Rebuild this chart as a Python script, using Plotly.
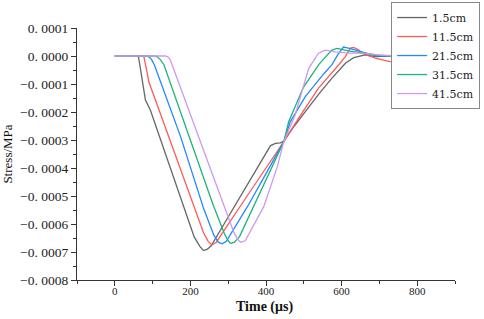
import plotly.graph_objects as go

# Time (us) and stress (x1e-4 MPa)
series_names = ["1.5cm", "11.5cm", "21.5cm", "31.5cm", "41.5cm"]

t_15 = [0, 60, 63, 70, 81, 94, 130, 183, 210, 225, 235, 245, 255, 300, 350, 400, 412, 425, 438, 447, 475, 504, 540, 574, 610, 632, 662, 689, 730, 800]
s_15 = [0, 0, -0.05, -0.59, -1.57, -1.93, -3.32, -5.41, -6.46, -6.80, -6.95, -6.90, -6.78, -5.75, -4.63, -3.46, -3.20, -3.12, -3.10, -3.04, -2.5, -1.99, -1.35, -0.80, -0.26, -0.06, 0.04, -0.02, 0.0, 0.0]

t_115 = [0, 74, 77, 82, 86, 90, 130, 174, 213, 235, 247, 257, 268, 300, 350, 400, 438, 447, 486, 539, 592, 610, 623, 632, 645, 654, 689, 728, 800]
s_115 = [0, 0, -0.03, -0.3, -0.62, -0.92, -2.41, -4.04, -5.5, -6.32, -6.62, -6.75, -6.66, -6.0, -5.0, -4.0, -3.25, -3.06, -2.23, -1.15, -0.32, -0.02, 0.28, 0.31, 0.22, 0.10, -0.08, -0.20, -0.25]

t_215 = [0, 84, 90, 97, 105, 174, 235, 262, 274, 284, 295, 350, 400, 447, 464, 504, 552, 575, 590, 605, 618, 654, 689, 730, 800]
s_215 = [0, 0, -0.03, -0.12, -0.33, -2.88, -5.45, -6.4, -6.65, -6.71, -6.62, -5.4, -4.2, -3.06, -2.35, -1.45, -0.65, -0.3, 0.05, 0.32, 0.28, 0.15, 0.01, 0.0, -0.05]

t_315 = [0, 106, 112, 120, 130, 200, 260, 290, 300, 306, 316, 330, 380, 430, 447, 460, 499, 540, 561, 574, 588, 618, 689, 730, 800]
s_315 = [0, 0, -0.03, -0.12, -0.31, -3.0, -5.31, -6.35, -6.6, -6.69, -6.66, -6.45, -5.0, -3.55, -3.06, -2.35, -1.12, -0.3, 0.04, 0.21, 0.27, 0.18, 0.04, 0.0, -0.02]

t_415 = [0, 134, 140, 146, 152, 205, 253, 300, 315, 325, 333, 345, 394, 430, 447, 477, 513, 539, 557, 583, 618, 662, 700, 760, 800]
s_415 = [0, 0, -0.03, -0.12, -0.33, -2.29, -4.07, -5.8, -6.3, -6.55, -6.65, -6.6, -5.38, -3.95, -3.06, -2.11, -0.44, 0.10, 0.21, 0.15, 0.10, 0.10, 0.03, 0.0, 0.0]

y_tick_vals = [0.0001, 0.0, -0.0001, -0.0002, -0.0003, -0.0004, -0.0005, -0.0006, -0.0007, -0.0008]
y_tick_text = ["0. 0001", "0. 0000", "\u22120. 0001", "\u22120. 0002", "\u22120. 0003",
               "\u22120. 0004", "\u22120. 0005", "\u22120. 0006", "\u22120. 0007", "\u22120. 0008"]
x_tick_vals = [0, 200, 400, 600, 800]
x_title = "Time (\u03bcs)"
y_title = "Stress/MPa"

colors = ["#666666", "#ff5a5a", "#2288ff", "#1db37a", "#cc99ee"]
times = [t_15, t_115, t_215, t_315, t_415]
stresses = [s_15, s_115, s_215, s_315, s_415]

fig = go.Figure()
for name, t, s, c in zip(series_names, times, stresses, colors):
    fig.add_trace(go.Scatter(
        x=t, y=[v * 1e-4 for v in s], mode="lines", name=name,
        line=dict(color=c, width=1.3),
    ))

axis_color = "#333333"
serif = "Liberation Serif"

fig.update_layout(
    width=484, height=319,
    margin=dict(l=77, r=29, t=28, b=39, autoexpand=False),
    paper_bgcolor="white", plot_bgcolor="white",
    showlegend=True,
    legend=dict(
        x=0.831, y=1.103, xanchor="left", yanchor="top",
        bgcolor="white", bordercolor="#888888", borderwidth=1,
        font=dict(family="DejaVu Serif", size=11, color="#222222"),
        tracegroupgap=0,
    ),
    xaxis=dict(
        range=[-100, 900], showgrid=False, zeroline=False, automargin=False,
        showline=True, linecolor=axis_color, linewidth=1.3,
        ticks="outside", ticklen=5, tickwidth=1.2, tickcolor=axis_color,
        tickmode="array", tickvals=x_tick_vals, ticklabelstandoff=-4,
        tickfont=dict(family=serif, size=11, color="#222222"),
        minor=dict(tickmode="linear", tick0=100, dtick=200, ticks="outside", ticklen=3, tickcolor=axis_color, tickwidth=1),
    ),
    yaxis=dict(
        range=[-0.0008, 0.0001], showgrid=False, zeroline=False, automargin=False,
        showline=True, linecolor=axis_color, linewidth=1.3,
        ticks="outside", ticklen=5, tickwidth=1.2, tickcolor=axis_color,
        tickmode="array", tickvals=y_tick_vals, ticktext=y_tick_text,
        tickfont=dict(family=serif, size=13.5, color="#222222"),
        minor=dict(tickmode="linear", tick0=0.00005, dtick=0.0001, ticks="outside", ticklen=3, tickcolor=axis_color, tickwidth=1),
        title=dict(text=y_title, font=dict(family=serif, size=13, color="#111111"), standoff=4),
    ),
    annotations=[dict(
        text="<b>" + x_title + "</b>", xref="paper", yref="paper",
        x=0.497, y=-0.1075, xanchor="center", yanchor="middle", showarrow=False,
        font=dict(family=serif, size=14, color="#111111"),
    )],
)

fig.write_html("out.html", post_script="document.body.style.margin='0';",
               config={"displayModeBar": False})
